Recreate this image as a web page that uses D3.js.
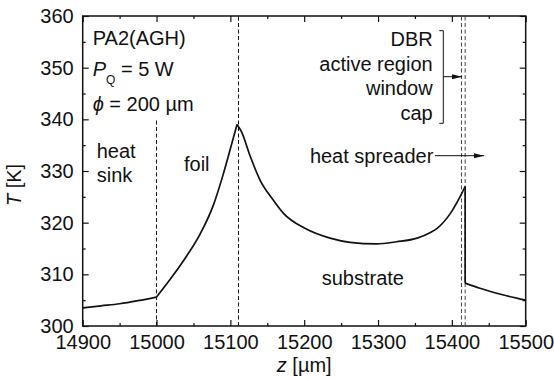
<!DOCTYPE html>
<html>
<head>
<meta charset="utf-8">
<script src="https://cdn.jsdelivr.net/npm/d3@7"></script>
<style>
  body { margin: 0; background: #fff; }
  svg text { font-family: "Liberation Sans", Arial, sans-serif; fill: #111; }
</style>
</head>
<body>
<div id="graf"></div>
<script>
// temperature profile along z, one array pair per layer
const sinkZ = [14900, 14925, 14950, 14975, 15000]
const sinkT = [303.5, 303.9, 304.3, 304.9, 305.6]
const foilZ = [15000, 15023, 15041, 15059, 15077, 15090, 15100, 15109]
const foilT = [305.6, 309.9, 313.6, 317.8, 323.4, 329.2, 334.3, 339.0]
const subZ = [15109, 15115, 15127, 15140, 15158, 15172, 15201, 15235, 15262, 15298, 15325, 15353,
  15371, 15380, 15398, 15411, 15418]
const subT = [339.0, 337.6, 332.8, 328.3, 324.4, 321.8, 318.9, 317.0, 316.2, 315.9, 316.3, 317.0,
  318.1, 318.9, 321.8, 325.0, 327.0]
const sprZ = [15418, 15438, 15470, 15500]
const sprT = [308.3, 307.3, 306.0, 305.0]

// layer boundaries (dashed lines)
const boundZ = [15000, 15111, 15413, 15418]
const boundTop = [340, 360, 360, 360]

const xTicks = [14900, 15000, 15100, 15200, 15300, 15400, 15500]
const xMinor = [14950, 15050, 15150, 15250, 15350, 15450]
const yTicks = [300, 310, 320, 330, 340, 350, 360]
const yMinor = [305, 315, 325, 335, 345, 355]

const anchoTotal = 554
const altoTotal = 380
const margins = { top: 16, right: 28.3, bottom: 54, left: 82.7 }
const ancho = anchoTotal - margins.left - margins.right
const alto = altoTotal - margins.top - margins.bottom
const fs = "20px"

const svg = d3.select("#graf").append("svg")
  .attr("width", anchoTotal)
  .attr("height", altoTotal)

svg.append("defs").append("marker")
  .attr("id", "flecha")
  .attr("viewBox", "0 0 10 6")
  .attr("refX", 10).attr("refY", 3)
  .attr("markerWidth", 10).attr("markerHeight", 6)
  .attr("markerUnits", "userSpaceOnUse")
  .attr("orient", "auto")
  .append("path").attr("d", "M0,0.5L10,3L0,5.5Z").attr("fill", "#111")

const g = svg.append("g")
  .attr("transform", `translate(${margins.left}, ${margins.top})`)

const x = d3.scaleLinear().domain([14900, 15500]).range([0, ancho])
const y = d3.scaleLinear().domain([300, 360]).range([alto, 0])

// axes, ticks inward
const fmt = d3.format("d")
const ejes = [
  [d3.axisBottom(x).tickValues(xTicks).tickSize(-6).tickPadding(9).tickFormat(fmt), `translate(0,${alto})`, true],
  [d3.axisBottom(x).tickValues(xMinor).tickSize(-3).tickFormat(""), `translate(0,${alto})`, false],
  [d3.axisTop(x).tickValues(xTicks).tickSize(-6).tickFormat(""), null, false],
  [d3.axisTop(x).tickValues(xMinor).tickSize(-3).tickFormat(""), null, false],
  [d3.axisLeft(y).tickValues(yTicks).tickSize(-6).tickPadding(9).tickFormat(fmt), null, true],
  [d3.axisLeft(y).tickValues(yMinor).tickSize(-3).tickFormat(""), null, false],
  [d3.axisRight(y).tickValues(yTicks).tickSize(-6).tickFormat(""), `translate(${ancho},0)`, false],
  [d3.axisRight(y).tickValues(yMinor).tickSize(-3).tickFormat(""), `translate(${ancho},0)`, false],
]
ejes.forEach(([eje, tr, labels]) => {
  const a = g.append("g").call(eje)
  if (tr) a.attr("transform", tr)
  a.select(".domain").remove()
  a.selectAll(".tick line").attr("stroke", "#111").attr("stroke-width", 1.2)
  if (labels) a.selectAll("text").attr("font-size", fs).attr("fill", "#111")
    .attr("font-family", '"Liberation Sans", Arial, sans-serif')
})

g.append("rect")
  .attr("width", ancho).attr("height", alto)
  .attr("fill", "none").attr("stroke", "#111").attr("stroke-width", 1.5)

// dashed boundaries
g.selectAll(".limite").data(boundZ).enter().append("line")
  .attr("class", "limite")
  .attr("x1", (d) => x(d)).attr("x2", (d) => x(d))
  .attr("y1", alto).attr("y2", (d, i) => y(boundTop[i]))
  .attr("stroke", (d, i) => (i > 1 ? "#444" : "#111"))
  .attr("stroke-width", 1)
  .attr("stroke-dasharray", "4,2.5")

// curve, smooth inside each layer
const capasCurva = [[sinkZ, sinkT], [foilZ, foilT], [subZ, subT], [sprZ, sprT]]
const linea = d3.line().x((d) => x(d.z)).y((d) => y(d.t)).curve(d3.curveMonotoneX)
capasCurva.forEach(([zs, ts]) => {
  g.append("path").datum(zs.map((z, i) => ({ z: z, t: ts[i] })))
    .attr("d", linea)
    .attr("fill", "none").attr("stroke", "#111").attr("stroke-width", 1.7)
})
// step at the heat spreader interface
g.append("line")
  .attr("x1", x(subZ[subZ.length - 1])).attr("x2", x(sprZ[0]))
  .attr("y1", y(subT[subT.length - 1])).attr("y2", y(sprT[0]))
  .attr("stroke", "#111").attr("stroke-width", 1.7)

// text
const txt = (xx, yy, s, anchor) =>
  svg.append("text").attr("x", xx).attr("y", yy).attr("font-size", fs)
    .attr("text-anchor", anchor || "start").text(s)

txt(92.7, 45, "PA2(AGH)")
const pq = svg.append("text").attr("x", 92.7).attr("y", 76).attr("font-size", fs)
pq.append("tspan").attr("font-style", "italic").text("P")
pq.append("tspan").attr("font-size", "12px").attr("dy", 8).text("Q")
pq.append("tspan").attr("dy", -8).text(" = 5 W")
const fi = svg.append("text").attr("x", 92.7).attr("y", 110.5).attr("font-size", fs)
fi.append("tspan").attr("font-style", "italic").text("\u03D5")
fi.append("tspan").text(" = 200 \u00B5m")

txt(96.7, 158.3, "heat")
txt(96.7, 181.7, "sink")
txt(184, 170.7, "foil")
txt(321.7, 285, "substrate")

const capas = ["DBR", "active region", "window", "cap"]
capas.forEach((c, i) => txt(432.7, 46 + i * 24.7, c, "end"))
svg.append("path")
  .attr("d", "M439.3,30.7H443.3V123.3H439.3")
  .attr("fill", "none").attr("stroke", "#111").attr("stroke-width", 1)
svg.append("line")
  .attr("x1", 443.3).attr("y1", 76.7).attr("x2", 462).attr("y2", 76.7)
  .attr("stroke", "#111").attr("stroke-width", 1).attr("marker-end", "url(#flecha)")

txt(433.3, 162.7, "heat spreader", "end")
svg.append("line")
  .attr("x1", 435).attr("y1", 155.7).attr("x2", 484).attr("y2", 155.7)
  .attr("stroke", "#111").attr("stroke-width", 1).attr("marker-end", "url(#flecha)")

// axis titles
const xt = svg.append("text")
  .attr("x", margins.left + ancho / 2).attr("y", 372)
  .attr("font-size", fs).attr("text-anchor", "middle")
xt.append("tspan").attr("font-style", "italic").text("z")
xt.append("tspan").text(" [\u00B5m]")

const yt = svg.append("text")
  .attr("transform", "translate(21,185) rotate(-90)")
  .attr("font-size", fs).attr("text-anchor", "middle")
yt.append("tspan").attr("font-style", "italic").text("T")
yt.append("tspan").text(" [K]")
</script>
</body>
</html>
